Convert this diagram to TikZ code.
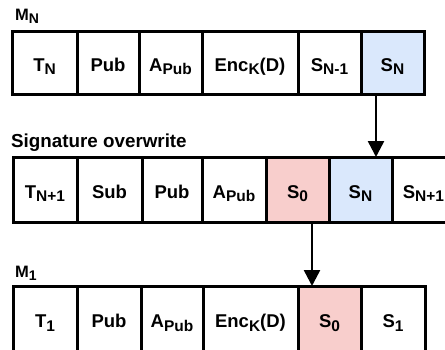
\documentclass[tikz,border=0pt]{standalone}
\usepackage{fontspec}
\setmainfont{Liberation Sans}
\usetikzlibrary{arrows.meta}
\definecolor{sigblue}{HTML}{DAE8FC}
\definecolor{sigred}{HTML}{F8CECC}
\newcommand{\lsub}[1]{\raisebox{-3.5pt}{\fontsize{15.5}{15.5}\selectfont #1}}
\newcommand{\ssub}[1]{\raisebox{-3pt}{\fontsize{14}{14}\selectfont #1}}
\tikzset{
  cell/.style={draw=black, line width=3pt, fill=white, inner sep=0pt, outer sep=0pt,
    text height=17pt, text depth=0pt,
    font=\fontsize{18.5}{18.5}\selectfont\bfseries},
  bluecell/.style={cell, fill=sigblue},
  redcell/.style={cell, fill=sigred},
  rowlabel/.style={anchor=base west, inner sep=0pt, font=\fontsize{16.5}{16.5}\selectfont\bfseries},
  biglabel/.style={anchor=base west, inner sep=0pt, font=\fontsize{18.8}{18.8}\selectfont\bfseries},
  link/.style={line width=2.5pt, -{Triangle[length=16pt, width=16pt]}}
}
\begin{document}
\begin{tikzpicture}[x=1pt, y=-1pt]
\useasboundingbox (0,0) rectangle (445,349);
\clip (0,0) rectangle (445,349);
\fill[white] (0,0) rectangle (445,349);
% top row
\node[rowlabel] (lmn) at (15,20) {M\ssub{N}};
\node[cell, minimum width=65pt, minimum height=63pt] (a1) at (44.5,62.5) {T\lsub{N}};
\node[cell, minimum width=62pt, minimum height=63pt] (a2) at (108,62.5) {Pub};
\node[cell, minimum width=63pt, minimum height=63pt] (a3) at (170.5,62.5) {A\lsub{Pub}};
\node[cell, minimum width=96pt, minimum height=63pt] (a4) at (250,62.5) {Enc\lsub{K}(D)};
\node[cell, minimum width=63pt, minimum height=63pt] (a5) at (329.5,62.5) {S\lsub{N-1}};
\node[bluecell, minimum width=63pt, minimum height=63pt] (a6) at (392.5,62.5) {S\lsub{N}};
% middle row
\node[biglabel] (lsig) at (11,147) {Signature overwrite};
\node[cell, minimum width=64pt, minimum height=65pt] (b1) at (45,189.5) {T\lsub{N+1}};
\node[cell, minimum width=65pt, minimum height=65pt] (b2) at (109.5,189.5) {Sub};
\node[cell, minimum width=60pt, minimum height=65pt] (b3) at (172,189.5) {Pub};
\node[cell, minimum width=64pt, minimum height=65pt] (b4) at (234,189.5) {A\lsub{Pub}};
\node[redcell, minimum width=63pt, minimum height=65pt] (b5) at (297.5,189.5) {S\lsub{0}};
\node[bluecell, minimum width=63pt, minimum height=65pt] (b6) at (360.5,189.5) {S\lsub{N}};
\node[cell, minimum width=63pt, minimum height=65pt] (b7) at (423.5,189.5) {S\lsub{N+1}};
% bottom row
\node[rowlabel] (lm1) at (15,277) {M\ssub{1}};
\node[cell, minimum width=64pt, minimum height=66pt] (c1) at (45,319) {T\lsub{1}};
\node[cell, minimum width=64pt, minimum height=66pt] (c2) at (109,319) {Pub};
\node[cell, minimum width=62pt, minimum height=66pt] (c3) at (172,319) {A\lsub{Pub}};
\node[cell, minimum width=95pt, minimum height=66pt] (c4) at (250.5,319) {Enc\lsub{K}(D)};
\node[redcell, minimum width=63pt, minimum height=66pt] (c5) at (329.5,319) {S\lsub{0}};
\node[cell, minimum width=64pt, minimum height=66pt] (c6) at (393,319) {S\lsub{1}};
% connectors
\coordinate (ax) at (376,0);
\coordinate (bx) at (312,0);
\draw[link] (a6.south -| ax) -- (b6.north -| ax);
\draw[link] (b5.south -| bx) -- (c5.north -| bx);
\end{tikzpicture}
\end{document}
